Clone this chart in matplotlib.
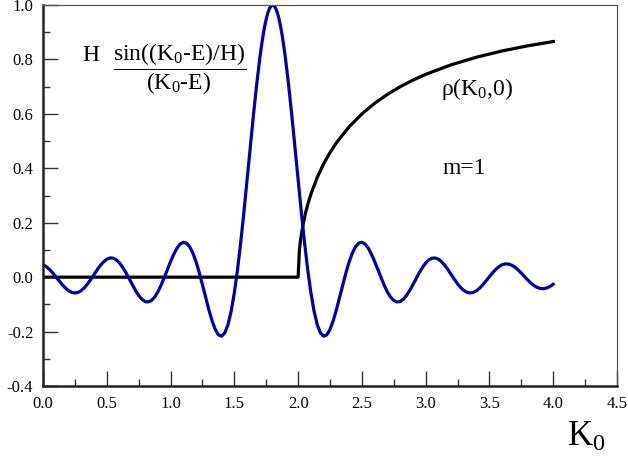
import numpy as np
import matplotlib
matplotlib.use("Agg")
import matplotlib.pyplot as plt
from matplotlib.ticker import MultipleLocator, FormatStrFormatter

plt.rcParams['font.family'] = ['Liberation Serif', 'DejaVu Serif']
plt.rcParams['mathtext.fontset'] = 'custom'
plt.rcParams['mathtext.rm'] = 'Liberation Serif'
plt.rcParams['mathtext.it'] = 'Liberation Serif:italic'
plt.rcParams['axes.unicode_minus'] = False

# H sin((K0-E)/H)/(K0-E) curve
k_blue = [0.000, 0.025, 0.050, 0.075, 0.100, 0.125, 0.150, 0.175, 0.200, 0.225,
          0.250, 0.275, 0.300, 0.325, 0.350, 0.375, 0.400, 0.425, 0.450, 0.475,
          0.500, 0.525, 0.550, 0.575, 0.600, 0.625, 0.650, 0.675, 0.700, 0.725,
          0.750, 0.775, 0.800, 0.825, 0.850, 0.875, 0.900, 0.925, 0.950, 0.975,
          1.000, 1.025, 1.050, 1.075, 1.100, 1.125, 1.150, 1.175, 1.200, 1.225,
          1.250, 1.275, 1.300, 1.325, 1.350, 1.375, 1.400, 1.425, 1.450, 1.475,
          1.500, 1.525, 1.550, 1.575, 1.600, 1.625, 1.650, 1.675, 1.700, 1.7125,
          1.725, 1.7375, 1.750, 1.7625, 1.775, 1.7875, 1.800, 1.8125, 1.825, 1.8375,
          1.850, 1.8625, 1.875, 1.8875, 1.900, 1.925, 1.950, 1.975, 2.000, 2.025,
          2.050, 2.075, 2.100, 2.125, 2.150, 2.175, 2.200, 2.225, 2.250, 2.275,
          2.300, 2.325, 2.350, 2.375, 2.400, 2.425, 2.450, 2.475, 2.500, 2.525,
          2.550, 2.575, 2.600, 2.625, 2.650, 2.675, 2.700, 2.725, 2.750, 2.775,
          2.800, 2.825, 2.850, 2.875, 2.900, 2.925, 2.950, 2.975, 3.000, 3.025,
          3.050, 3.075, 3.100, 3.125, 3.150, 3.175, 3.200, 3.225, 3.250, 3.275,
          3.300, 3.325, 3.350, 3.375, 3.400, 3.425, 3.450, 3.475, 3.500, 3.525,
          3.550, 3.575, 3.600, 3.625, 3.650, 3.675, 3.700, 3.725, 3.750, 3.775,
          3.800, 3.825, 3.850, 3.875, 3.900, 3.925, 3.950, 3.975, 4.000]
v_blue = [0.0457, 0.0388, 0.0288, 0.0163, 0.0021, -0.0127, -0.0269, -0.0395, -0.0494, -0.0558,
          -0.0580, -0.0558, -0.0491, -0.0384, -0.0244, -0.0079, 0.0098, 0.0273, 0.0434, 0.0566,
          0.0660, 0.0706, 0.0698, 0.0635, 0.0521, 0.0360, 0.0164, -0.0053, -0.0276, -0.0488,
          -0.0671, -0.0811, -0.0894, -0.0911, -0.0857, -0.0733, -0.0544, -0.0301, -0.0021, 0.0279,
          0.0574, 0.0844, 0.1065, 0.1216, 0.1282, 0.1251, 0.1117, 0.0884, 0.0561, 0.0165,
          -0.0280, -0.0745, -0.1197, -0.1600, -0.1918, -0.2118, -0.2170, -0.2051, -0.1748, -0.1253,
          -0.0572, 0.0281, 0.1281, 0.2394, 0.3578, 0.4788, 0.5972, 0.7081, 0.8066, 0.8498,
          0.8882, 0.9215, 0.9494, 0.9713, 0.9872, 0.9968, 1.0000, 0.9968, 0.9872, 0.9713,
          0.9494, 0.9215, 0.8882, 0.8498, 0.8066, 0.7081, 0.5972, 0.4788, 0.3578, 0.2394,
          0.1281, 0.0281, -0.0572, -0.1253, -0.1748, -0.2051, -0.2170, -0.2118, -0.1918, -0.1600,
          -0.1197, -0.0745, -0.0280, 0.0165, 0.0561, 0.0884, 0.1117, 0.1251, 0.1282, 0.1216,
          0.1065, 0.0844, 0.0574, 0.0279, -0.0021, -0.0301, -0.0544, -0.0733, -0.0857, -0.0911,
          -0.0894, -0.0811, -0.0671, -0.0488, -0.0276, -0.0053, 0.0164, 0.0360, 0.0521, 0.0635,
          0.0698, 0.0706, 0.0660, 0.0566, 0.0434, 0.0273, 0.0098, -0.0079, -0.0244, -0.0384,
          -0.0491, -0.0558, -0.0580, -0.0558, -0.0494, -0.0395, -0.0269, -0.0127, 0.0021, 0.0163,
          0.0288, 0.0388, 0.0457, 0.0488, 0.0482, 0.0440, 0.0365, 0.0265, 0.0147, 0.0021,
          -0.0103, -0.0217, -0.0311, -0.0379, -0.0417, -0.0423, -0.0396, -0.0340, -0.0260]

# rho(K0,0) curve
k_rho = [0.0, 2.0, 2.0, 2.01, 2.02, 2.04, 2.06, 2.08, 2.10, 2.15, 2.20, 2.25,
         2.30, 2.40, 2.50, 2.60, 2.70, 2.80, 2.90, 3.00, 3.20, 3.40, 3.60, 3.80, 4.00]
v_rho = [0.0, 0.0, 0.0, 0.0996, 0.1404, 0.1971, 0.2396, 0.2747, 0.3049, 0.3670, 0.4166, 0.4581,
         0.4938, 0.5528, 0.6000, 0.6390, 0.6718, 0.6999, 0.7241, 0.7454, 0.7806, 0.8087, 0.8315, 0.8503, 0.8660]

fig = plt.figure(figsize=(6.28, 4.62), dpi=100)
ax = fig.add_axes([0.0685, 0.1645, 0.914, 0.8245])

ax.plot(k_rho, v_rho, color='black', lw=2.3)
ax.plot(k_blue, v_blue, color='#0000a8', lw=2.3)

ax.set_xlim(0, 4.5)
ax.set_ylim(-0.4, 1.0)
ax.xaxis.set_major_locator(MultipleLocator(0.5))
ax.xaxis.set_minor_locator(MultipleLocator(0.25))
ax.yaxis.set_major_locator(MultipleLocator(0.2))
ax.yaxis.set_minor_locator(MultipleLocator(0.1))
ax.xaxis.set_major_formatter(FormatStrFormatter('%.1f'))
ax.yaxis.set_major_formatter(FormatStrFormatter('%.1f'))
ax.tick_params(which='both', direction='in', top=False, right=False, color='#333333', width=1.0, labelsize=12)
ax.tick_params(which='major', length=11)
ax.tick_params(which='minor', length=5)
ax.tick_params(axis='x', pad=7)
ax.tick_params(axis='y', pad=7)

for s in ['left', 'bottom']:
    ax.spines[s].set_linewidth(1.8)
    ax.spines[s].set_color('#222222')
for s in ['top', 'right']:
    ax.spines[s].set_linewidth(0.9)
    ax.spines[s].set_color('#555555')

# formula label: "H" on the numerator line, then the fraction
ax.text(0.306, 0.794, "H", fontsize=17, ha='left', va='baseline')
ax.text(1.074, 0.763, r"$\dfrac{\text{sin((K}_0\text{-E)/H)}}{\text{(K}_0\text{-E)}}$",
        fontsize=17, ha='center', va='center')
ax.text(3.40, 0.69, "ρ(K$_0$,0)", fontsize=17, ha='center', va='center')
ax.text(3.13, 0.40, "m=1", fontsize=17, ha='left', va='center')
fig.text(0.933, 0.054, "K$_0$", fontsize=25, ha='center', va='center')

fig.savefig("out.png", dpi=100)
